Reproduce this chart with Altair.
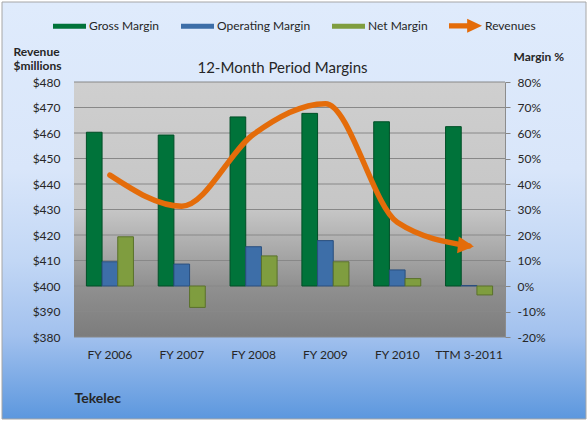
import altair as alt
import pandas as pd

# ---- data -------------------------------------------------------------
periods = ["FY 2006", "FY 2007", "FY 2008", "FY 2009", "FY 2010", "TTM 3-2011"]
gross_margin = [60.3, 59.2, 66.3, 67.7, 64.4, 62.5]
operating_margin = [9.5, 8.6, 15.4, 17.8, 6.3, 0.2]
net_margin = [19.3, -8.4, 11.8, 9.5, 2.9, -3.5]
revenues = [443.5, 431.3, 459.5, 471.5, 425.0, 415.7]

series_names = ["Gross Margin", "Operating Margin", "Net Margin", "Revenues"]
series_fill = ["#00733A", "#3D6EA8", "#7F9D3F", "#E46C0A"]
series_edge = ["#004F27", "#2A4F7E", "#5A712B", "#B4540A"]

revenue_ticks = list(range(380, 481, 10))
margin_ticks = list(range(-20, 81, 10))

# ---- tables -----------------------------------------------------------
margin_rows = []
for i, p in enumerate(periods):
    for name, vals in zip(series_names[:3], [gross_margin, operating_margin, net_margin]):
        margin_rows.append({"period": p, "series": name, "value": vals[i]})
margin_df = pd.DataFrame(margin_rows)
revenue_df = pd.DataFrame({"period": periods, "revenue": revenues, "series": "Revenues"})
grid_df = pd.DataFrame({"tick": revenue_ticks})
frame_df = pd.DataFrame({"k": [0]})

FONT = "Lato"
TEXT = "#262626"

rev_scale = alt.Scale(domain=[380, 480], nice=False, zero=False)
margin_scale = alt.Scale(domain=[-20, 80], nice=False)
x_scale = alt.Scale(domain=periods, paddingInner=0.345, paddingOuter=0.1725)
color_scale = alt.Scale(domain=series_names, range=series_fill)

swatch_path = "M-1,-0.15H1V0.15H-1Z"
arrow_path = "M-1,-0.16H0.1V-0.42L1,0L0.1,0.42V0.16H-1Z"
head_path = "M0.6,0L-1.4,-1.05L-1.4,1.05Z"
legend_shape = {"expr": f"datum.value === 'Revenues' ? '{arrow_path}' : '{swatch_path}'"}

# ---- background panels ------------------------------------------------
outer_fill = alt.Gradient(
    gradient="linear", x1=0, y1=0, x2=0, y2=1,
    stops=[
        alt.GradientStop(color="#DFEBFC", offset=0),
        alt.GradientStop(color="#D9E6FA", offset=0.4),
        alt.GradientStop(color="#C2D7F5", offset=0.62),
        alt.GradientStop(color="#A2C1EE", offset=0.8),
        alt.GradientStop(color="#5C97DE", offset=1),
    ],
)
outer = alt.Chart(frame_df).mark_rect(fill=outer_fill, stroke="#A6A6A6", strokeWidth=1).encode(
    x=alt.value(-72), x2=alt.value(512), y=alt.value(-80), y2=alt.value(337)
)

plot_fill = alt.Gradient(
    gradient="linear", x1=0, y1=0, x2=0, y2=1,
    stops=[
        alt.GradientStop(color="#CFCFCF", offset=0),
        alt.GradientStop(color="#C6C6C6", offset=0.5),
        alt.GradientStop(color="#909090", offset=0.8),
        alt.GradientStop(color="#7C7C7C", offset=1),
    ],
)
plot_bg = alt.Chart(frame_df).mark_rect(fill=plot_fill).encode(
    x=alt.value(0), x2=alt.value("width"), y=alt.value(0), y2=alt.value("height")
)

# ---- gridlines + left (revenue) axis ----------------------------------
grid = alt.Chart(grid_df).mark_rule(color="#888888", strokeWidth=1).encode(
    y=alt.Y(
        "tick:Q",
        scale=rev_scale,
        axis=alt.Axis(
            orient="left", values=revenue_ticks, labelExpr="'$' + datum.value",
            ticks=False, domain=False, grid=False, labelPadding=14,
            title=["Revenue", "$millions"], titleAngle=0, titleAlign="left",
            titleBaseline="middle", titleX=-61, titleY=-31, titleLineHeight=14.5,
            titleFontWeight="bold", titleFontSize=12, zindex=1,
        ),
    )
)

# ---- margin bars + right axis -----------------------------------------
bars = alt.Chart(margin_df).mark_bar(strokeWidth=1).encode(
    x=alt.X(
        "period:N", scale=x_scale, sort=periods,
        axis=alt.Axis(
            orient="bottom", labelAngle=0, ticks=False, domain=False, grid=False,
            labelPadding=12, title="Tekelec", titleX=0, titleY=61, titleAlign="left",
            titleAnchor="start", titleBaseline="middle", titleFontSize=14,
            titleFontWeight="bold", zindex=1,
        ),
    ),
    xOffset=alt.XOffset("series:N", sort=series_names[:3], scale=alt.Scale(paddingInner=0, paddingOuter=0)),
    y=alt.Y(
        "value:Q", scale=margin_scale,
        axis=alt.Axis(
            orient="right", values=margin_ticks, labelExpr="datum.value + '%'",
            ticks=True, tickSize=5, tickColor="#868686", domain=True, domainColor="#8C8C8C",
            grid=False, labelPadding=7, title="Margin %", titleAngle=0, titleAlign="left",
            titleBaseline="middle", titleX=8, titleY=-26, titleFontWeight="bold",
            titleFontSize=12, zindex=1,
        ),
    ),
    fill=alt.Fill(
        "series:N", scale=color_scale,
        legend=alt.Legend(
            orient="none", legendX=-21, legendY=-73, direction="horizontal", title=None,
            symbolType=legend_shape, symbolSize=1089, symbolStrokeWidth=0,
            labelFontSize=12, labelOffset=3, columnPadding=21, labelColor=TEXT,
            labelFont=FONT,
        ),
    ),
    stroke=alt.Stroke("series:N", scale=alt.Scale(domain=series_names, range=series_edge), legend=None),
)

# ---- revenue curve ----------------------------------------------------
line = alt.Chart(revenue_df).mark_line(interpolate="monotone", strokeWidth=5.5, strokeCap="round").encode(
    x=alt.X("period:N", scale=x_scale, sort=periods),
    y=alt.Y("revenue:Q", scale=rev_scale, axis=None),
    color=alt.Color("series:N", scale=color_scale, legend=None),
)

head = alt.Chart(revenue_df).transform_filter(
    alt.datum.period == periods[-1]
).mark_point(shape=head_path, size=256, filled=True, opacity=1, angle=6, color=series_fill[3]).encode(
    x=alt.X("period:N", scale=x_scale, sort=periods),
    y=alt.Y("revenue:Q", scale=rev_scale, axis=None),
)

chart = (
    alt.layer(outer, plot_bg, grid, bars, line, head)
    .resolve_scale(y="independent")
    .properties(
        width=431, height=255,
        autosize=alt.AutoSizeParams(type="none"),
        padding={"left": 74, "top": 82, "right": 83, "bottom": 85},
        background="#FFFFFF",
        title=alt.Title(
            "12-Month Period Margins", fontSize=15, font=FONT, fontWeight="normal",
            color=TEXT, anchor="middle", dx=-7, dy=80, offset=6,
        ),
    )
    .configure(font=FONT)
    .configure_view(stroke=None)
    .configure_axis(labelFont=FONT, labelFontSize=12, labelColor=TEXT, titleFont=FONT, titleColor=TEXT)
)

chart.save("out.html", embed_options={"renderer": "svg", "actions": False})
